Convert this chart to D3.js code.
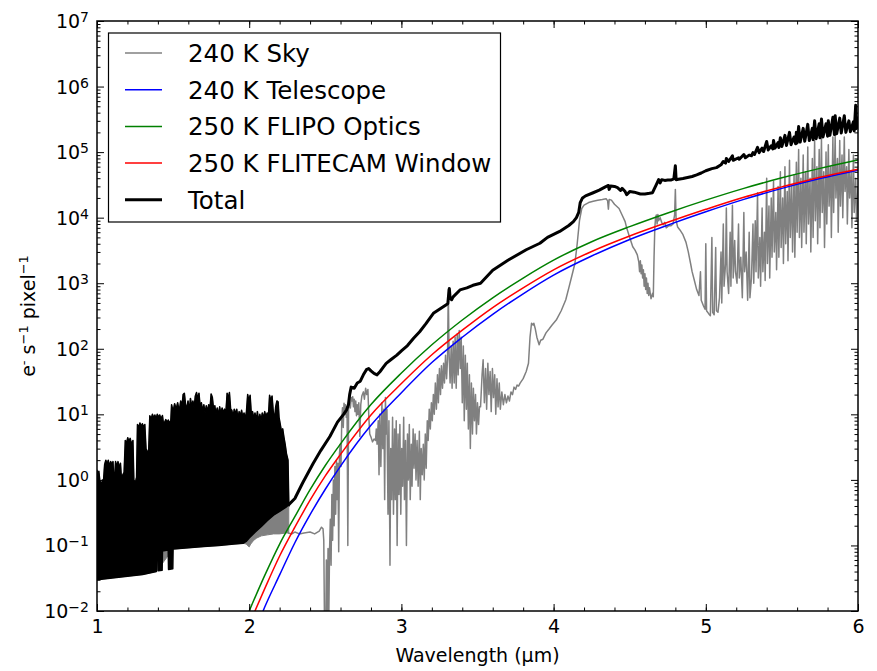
<!DOCTYPE html>
<html>
<head>
<meta charset="utf-8">
<script src="https://cdnjs.cloudflare.com/ajax/libs/d3/7.8.5/d3.min.js"></script>
<style>
body { margin: 0; background: #fff; }
text { font-family: "DejaVu Sans", sans-serif; fill: #000; }
</style>
</head>
<body>
<div class="chart"></div>
<script>
// series names / legend
var seriesNames = ["240 K Sky", "240 K Telescope", "250 K FLIPO Optics", "250 K FLITECAM Window", "Total"];
var seriesColors = ["#808080", "#0000ff", "#008000", "#ff0000", "#000000"];

// tick labels
var xTicks = [1, 2, 3, 4, 5, 6];
var yExponents = [-2, -1, 0, 1, 2, 3, 4, 5, 6, 7];

// thermal emission curves (wavelength in um, e- s-1 pixel-1)
var thermalWl = [2.0, 2.1, 2.2, 2.3, 2.4, 2.5, 2.6, 2.8, 3.0, 3.2, 3.4, 3.6, 3.8, 4.0, 4.25, 4.5, 4.75, 5.0, 5.25, 5.5, 5.75, 6.0];
var telescope = [0.0028, 0.0112, 0.0355, 0.11, 0.295, 0.72, 1.62, 6.8, 21.4, 61.7, 150, 335, 690, 1330, 2600, 4650, 7700, 12300, 19000, 28000, 39500, 53000];
var flipoOptics = [0.01, 0.034, 0.105, 0.275, 0.71, 1.66, 3.55, 14.1, 42.7, 115, 275, 600, 1200, 2250, 4300, 7300, 11800, 18500, 28000, 40500, 56500, 75900];
var flitecamWindow = [0.0063, 0.0214, 0.069, 0.19, 0.49, 1.15, 2.45, 9.8, 29.5, 81, 192, 425, 850, 1600, 3050, 5250, 8500, 13400, 20500, 29500, 41500, 55000];

// OH line forest 1.0-2.26 um: upper envelope, shared by sky and total
var forestTop = [
  [1.0, 1.4], [1.006, 1.2], [1.012, 1.35], [1.018, 1.0], [1.024, 0.9], [1.03, 0.85], [1.036, 1.0], [1.042, 0.9],
  [1.05, 1.7], [1.058, 2.0], [1.066, 1.7], [1.074, 2.0], [1.082, 1.6], [1.09, 1.9], [1.098, 1.7], [1.105, 1.9],
  [1.11, 1.0], [1.116, 1.1], [1.122, 1.9], [1.13, 1.6], [1.138, 1.9], [1.146, 1.5], [1.154, 1.8], [1.16, 1.1],
  [1.17, 1.2], [1.178, 1.3], [1.186, 4.0], [1.194, 3.6], [1.202, 4.4], [1.21, 3.8], [1.218, 4.3], [1.226, 3.5],
  [1.236, 4.0], [1.242, 1.0], [1.252, 0.9], [1.26, 1.1], [1.266, 7.0], [1.274, 6.2], [1.282, 7.4], [1.29, 6.5],
  [1.298, 7.2], [1.306, 6.4], [1.314, 7.0], [1.322, 3.0], [1.332, 2.5], [1.34, 3.0], [1.347, 9.5], [1.356, 8.5],
  [1.364, 10], [1.372, 8.8], [1.38, 9.8], [1.388, 8.6], [1.396, 10], [1.404, 9], [1.412, 9.8], [1.42, 8.5],
  [1.43, 9.6], [1.436, 7.4], [1.445, 7.6], [1.452, 8.3], [1.46, 7.5], [1.468, 8.2], [1.476, 7.4], [1.485, 8.0],
  [1.49, 14], [1.50, 11], [1.51, 14.5], [1.52, 12], [1.53, 15], [1.54, 11], [1.55, 16], [1.558, 13],
  [1.566, 20], [1.574, 21], [1.582, 14], [1.59, 12], [1.598, 16], [1.606, 11], [1.614, 17.5], [1.622, 13],
  [1.63, 16], [1.638, 12.5], [1.646, 19], [1.654, 21.5], [1.662, 17], [1.67, 21], [1.678, 13], [1.686, 15],
  [1.694, 11], [1.702, 14], [1.71, 10.5], [1.718, 13.5], [1.726, 11], [1.734, 14], [1.742, 12], [1.75, 20.5],
  [1.758, 18], [1.766, 12], [1.774, 13.5], [1.782, 10], [1.79, 12.5], [1.798, 9.5], [1.806, 13], [1.814, 10],
  [1.822, 12.5], [1.83, 10.5], [1.838, 12], [1.846, 10], [1.855, 21], [1.862, 17], [1.87, 21.5], [1.878, 12],
  [1.886, 11.5], [1.894, 9], [1.902, 12], [1.91, 10], [1.918, 12], [1.926, 8.5], [1.934, 11], [1.942, 9.5],
  [1.95, 11.5], [1.958, 9], [1.966, 10.5], [1.974, 8.5], [1.982, 11], [1.99, 20], [1.998, 16], [2.006, 19.5],
  [2.014, 10], [2.022, 11], [2.03, 8.5], [2.038, 10.5], [2.046, 8], [2.054, 11], [2.062, 7.5], [2.07, 10],
  [2.078, 8], [2.086, 10.5], [2.094, 8.5], [2.102, 11], [2.11, 9], [2.118, 10.5], [2.126, 9], [2.134, 19.5],
  [2.142, 16], [2.15, 19], [2.158, 11], [2.166, 8], [2.174, 13], [2.182, 16], [2.19, 15.5], [2.196, 9],
  [2.204, 7], [2.212, 5.5], [2.22, 6], [2.228, 4.5], [2.236, 3.5], [2.245, 2.5], [2.255, 2.0], [2.26, 0.45]
];
var totalForestBottom = [
  [1.0, 0.030], [1.1, 0.032], [1.2, 0.034], [1.3, 0.036], [1.39, 0.040], [1.392, 0.08], [1.40, 0.08],
  [1.402, 0.041], [1.428, 0.042], [1.43, 0.082], [1.468, 0.085], [1.47, 0.043], [1.498, 0.044],
  [1.50, 0.088], [1.60, 0.092], [1.70, 0.096], [1.80, 0.10], [1.90, 0.105], [1.96, 0.108], [1.98, 0.115],
  [2.0, 0.13], [2.04, 0.16], [2.08, 0.195], [2.12, 0.24], [2.16, 0.29], [2.20, 0.33], [2.24, 0.38], [2.26, 0.42]
];
var skyForestBottom = [
  [1.0, 0.030], [1.1, 0.032], [1.2, 0.034], [1.3, 0.036], [1.39, 0.040], [1.50, 0.088], [1.60, 0.092],
  [1.70, 0.096], [1.80, 0.10], [1.90, 0.105], [1.96, 0.108], [1.98, 0.105], [2.0, 0.095], [2.01, 0.105],
  [2.03, 0.12], [2.05, 0.13], [2.08, 0.14], [2.12, 0.145], [2.16, 0.15], [2.20, 0.15], [2.24, 0.155], [2.26, 0.155]
];

// sky emission 2.26-6 um
var sky = [
  [2.255, 0.155], [2.28, 0.15], [2.30, 0.16], [2.33, 0.15], [2.36, 0.155], [2.40, 0.16], [2.43, 0.15],
  [2.46, 0.165], [2.475, 0.19], [2.485, 0.18], [2.49, 0.12], [2.495, 0.005], [2.503, 0.005], [2.507, 0.06],
  [2.512, 0.005], [2.518, 0.09], [2.523, 0.008], [2.528, 0.085], [2.533, 0.25], [2.538, 0.05], [2.543, 0.6],
  [2.548, 0.12], [2.553, 1.0], [2.558, 0.2], [2.563, 1.6], [2.568, 0.3], [2.573, 2.0], [2.578, 0.5],
  [2.583, 1.8], [2.588, 0.08], [2.593, 2.5], [2.598, 3.5], [2.603, 1.6], [2.608, 8], [2.613, 12.6],
  [2.618, 6.3], [2.623, 14.8], [2.628, 10], [2.633, 14], [2.638, 9], [2.643, 13], [2.648, 0.1], [2.653, 12],
  [2.66, 15], [2.665, 12.5], [2.67, 18], [2.675, 16], [2.68, 18.6], [2.685, 13], [2.69, 17], [2.695, 11],
  [2.70, 16], [2.705, 9.5], [2.71, 14], [2.715, 10], [2.72, 15], [2.727, 4.6], [2.733, 14], [2.74, 19],
  [2.75, 22], [2.757, 17], [2.765, 25], [2.772, 20], [2.78, 24], [2.786, 9], [2.792, 5], [2.80, 4.5],
  [2.81, 3.8], [2.82, 4.2], [2.83, 4.0], [2.835, 6], [2.84, 3.5], [2.848, 8], [2.853, 1.2], [2.858, 10],
  [2.865, 1.6], [2.872, 15], [2.878, 3], [2.885, 12], [2.89, 0.5], [2.895, 18], [2.90, 5], [2.905, 12],
  [2.912, 0.3], [2.918, 8], [2.925, 0.05], [2.93, 3], [2.936, 0.5], [2.942, 9], [2.948, 0.3], [2.955, 6],
  [2.96, 0.5], [2.966, 8], [2.972, 0.1], [2.978, 5], [2.984, 0.6], [2.99, 7], [2.996, 0.3], [3.002, 3],
  [3.008, 0.8], [3.015, 9], [3.02, 0.5], [3.027, 4], [3.033, 0.1], [3.04, 5], [3.046, 1], [3.052, 7],
  [3.058, 0.5], [3.065, 3.5], [3.07, 0.8], [3.077, 6], [3.083, 1.5], [3.09, 5], [3.096, 1], [3.103, 4],
  [3.11, 0.8], [3.118, 5.5], [3.124, 0.5], [3.13, 3], [3.137, 1.2], [3.144, 3.5], [3.15, 1], [3.157, 5],
  [3.163, 1.5], [3.17, 8], [3.176, 4], [3.183, 12], [3.19, 6], [3.197, 15], [3.203, 8], [3.21, 20],
  [3.216, 10], [3.223, 30], [3.23, 12], [3.237, 40], [3.243, 15], [3.25, 50], [3.257, 20], [3.263, 55],
  [3.27, 25], [3.277, 60], [3.283, 30], [3.29, 80], [3.297, 35], [3.303, 70], [3.308, 800], [3.313, 90],
  [3.32, 30], [3.327, 110], [3.333, 25], [3.34, 130], [3.347, 30], [3.353, 150], [3.36, 25], [3.367, 170],
  [3.373, 40], [3.38, 190], [3.387, 50], [3.393, 150], [3.40, 15], [3.407, 110], [3.413, 8], [3.42, 80],
  [3.427, 12], [3.433, 60], [3.44, 6], [3.447, 40], [3.453, 3], [3.46, 30], [3.467, 5], [3.473, 25],
  [3.48, 8], [3.487, 20], [3.493, 5], [3.50, 15], [3.507, 7], [3.513, 13],
  [3.52, 13], [3.53, 40], [3.537, 68], [3.545, 15], [3.553, 50], [3.56, 12], [3.568, 60], [3.575, 20],
  [3.583, 45], [3.59, 11], [3.598, 50], [3.605, 18], [3.613, 40], [3.62, 10], [3.628, 35], [3.635, 13],
  [3.643, 30], [3.65, 12], [3.66, 22], [3.67, 14], [3.68, 20], [3.69, 15], [3.70, 19], [3.71, 16],
  [3.72, 22], [3.73, 20], [3.74, 26], [3.75, 24], [3.76, 28], [3.77, 27], [3.78, 30], [3.80, 35],
  [3.82, 45], [3.835, 60], [3.845, 150], [3.855, 245], [3.865, 230], [3.87, 245], [3.88, 200], [3.89, 150],
  [3.905, 115], [3.915, 135], [3.93, 140], [3.95, 175], [3.97, 200], [3.99, 230], [4.02, 280], [4.05, 380],
  [4.08, 560], [4.10, 850], [4.12, 1300], [4.14, 2000], [4.155, 4000], [4.17, 9000], [4.185, 13800],
  [4.20, 15500], [4.23, 17000], [4.26, 17800], [4.29, 18500], [4.32, 19000], [4.345, 19500], [4.355, 18000],
  [4.36, 13500], [4.365, 19000], [4.38, 18500], [4.40, 16000], [4.43, 13800], [4.45, 11000], [4.47, 8700],
  [4.48, 7000], [4.50, 5000], [4.52, 3600], [4.535, 3200], [4.55, 2700], [4.56, 2100], [4.565, 1500],
  [4.57, 2200], [4.575, 1400], [4.58, 1900], [4.585, 1200], [4.59, 1600], [4.595, 900], [4.60, 1400],
  [4.605, 800], [4.61, 1200], [4.615, 700], [4.62, 1000], [4.625, 650], [4.63, 850], [4.64, 580],
  [4.65, 700], [4.655, 620], [4.66, 2500], [4.665, 7000], [4.67, 10000], [4.675, 11000], [4.68, 8000],
  [4.685, 11200], [4.69, 9000], [4.70, 10000], [4.71, 8500], [4.72, 7800], [4.73, 8500], [4.74, 7000],
  [4.755, 7500], [4.77, 7500], [4.785, 8000], [4.795, 11000], [4.80, 27000], [4.805, 9000], [4.815, 7200],
  [4.83, 6500], [4.85, 5500], [4.87, 4200], [4.885, 3000], [4.90, 2000], [4.91, 1500], [4.925, 1100],
  [4.94, 800], [4.955, 650], [4.965, 1500], [4.97, 550], [4.985, 450], [4.995, 400], [5.00, 4000],
  [5.005, 380], [5.02, 340], [5.03, 320], [5.04, 5000], [5.045, 360], [5.055, 330], [5.065, 3500],
  [5.07, 380], [5.08, 360], [5.09, 600], [5.10, 3000], [5.105, 500], [5.115, 8000], [5.12, 900],
  [5.13, 2000], [5.135, 14000], [5.14, 1500], [5.15, 700], [5.16, 6000], [5.165, 900], [5.175, 15500],
  [5.18, 1200], [5.19, 4500], [5.195, 1500], [5.205, 1000], [5.215, 8000], [5.22, 1200], [5.23, 2500],
  [5.24, 600], [5.25, 12000], [5.255, 1500], [5.265, 3000], [5.275, 550], [5.285, 6000], [5.29, 600],
  [5.30, 1200], [5.31, 8000], [5.315, 1000], [5.325, 9000], [5.33, 1500], [5.34, 24000], [5.345, 1200],
  [5.355, 5000], [5.36, 900], [5.37, 14000], [5.375, 1500], [5.385, 6000], [5.39, 1100], [5.40, 40000],
  [5.405, 2000], [5.415, 15000], [5.42, 1200], [5.43, 20000], [5.435, 2500], [5.445, 36000], [5.45, 3000],
  [5.46, 12000], [5.465, 1600], [5.475, 30000], [5.48, 2500], [5.49, 50000], [5.495, 3500], [5.505, 20000],
  [5.51, 2000], [5.52, 60000], [5.525, 4000], [5.535, 25000], [5.54, 2200], [5.55, 75000], [5.555, 5000],
  [5.565, 30000], [5.57, 3000], [5.58, 45000], [5.585, 2500], [5.595, 70000], [5.60, 6000], [5.61, 110000],
  [5.615, 5000], [5.625, 40000], [5.63, 3500], [5.64, 90000], [5.645, 6000], [5.655, 50000], [5.66, 4000],
  [5.67, 120000], [5.675, 8000], [5.685, 40000], [5.69, 3000], [5.70, 80000], [5.705, 5000], [5.715, 150000],
  [5.72, 9000], [5.73, 60000], [5.735, 4000], [5.745, 110000], [5.75, 7000], [5.76, 160000], [5.765, 12000],
  [5.775, 50000], [5.78, 3500], [5.79, 100000], [5.795, 8000], [5.805, 130000], [5.81, 15000], [5.82, 60000],
  [5.825, 5000], [5.835, 170000], [5.84, 12000], [5.85, 180000], [5.855, 20000], [5.865, 80000], [5.87, 6000],
  [5.88, 150000], [5.885, 15000], [5.895, 90000], [5.90, 10000], [5.91, 170000], [5.915, 25000], [5.925, 60000],
  [5.93, 8000], [5.94, 110000], [5.945, 20000], [5.955, 50000], [5.96, 7000], [5.97, 90000], [5.975, 12000],
  [5.985, 40000], [5.99, 9000], [6.0, 30000]
];

// total 2.26-6 um
var total = [
  [2.255, 0.40], [2.26, 0.42], [2.30, 0.52], [2.35, 0.89], [2.42, 1.78], [2.47, 2.8], [2.53, 4.6], [2.58, 7.6],
  [2.62, 10], [2.64, 11.7], [2.652, 14], [2.66, 20], [2.67, 26], [2.69, 25], [2.71, 30], [2.73, 32],
  [2.75, 40], [2.77, 48], [2.785, 50], [2.80, 46], [2.82, 42], [2.84, 40], [2.86, 45], [2.88, 52],
  [2.90, 60], [2.93, 68], [2.97, 80], [3.0, 93], [3.04, 112], [3.08, 145], [3.12, 182], [3.16, 240],
  [3.21, 347], [3.25, 400], [3.29, 460], [3.305, 490], [3.31, 650], [3.315, 830], [3.32, 600], [3.33, 560],
  [3.34, 620], [3.385, 790], [3.43, 850], [3.47, 930], [3.52, 1000], [3.60, 1580], [3.70, 2240],
  [3.82, 3240], [3.91, 4070], [3.96, 5000], [4.04, 6170], [4.10, 7600], [4.13, 8700], [4.15, 10000],
  [4.165, 12000], [4.175, 17000], [4.19, 20000], [4.21, 21500], [4.26, 24000], [4.30, 26300], [4.34, 29500],
  [4.36, 31000], [4.365, 27000], [4.375, 30500], [4.40, 30000], [4.42, 28800], [4.44, 26000], [4.45, 28000],
  [4.47, 25000], [4.48, 22400], [4.50, 25000], [4.53, 24500], [4.57, 23000], [4.60, 23000], [4.63, 23500],
  [4.65, 24000], [4.66, 27000], [4.675, 32000], [4.69, 38000], [4.70, 34000], [4.71, 38000], [4.73, 37000],
  [4.75, 37500], [4.77, 37500], [4.79, 39000], [4.80, 62000], [4.805, 38000], [4.82, 38500], [4.85, 39500],
  [4.88, 41000], [4.91, 42500], [4.94, 45000], [4.97, 48000], [5.0, 52000], [5.04, 56000], [5.07, 58000],
  [5.10, 64000], [5.115, 72000], [5.13, 68000], [5.135, 80000], [5.15, 72000], [5.175, 88000], [5.18, 75000],
  [5.215, 82000], [5.22, 78000], [5.25, 92000], [5.26, 82000], [5.285, 90000], [5.30, 88000], [5.31, 98000],
  [5.32, 92000], [5.34, 118000], [5.35, 98000], [5.37, 115000], [5.38, 102000], [5.40, 145000], [5.41, 108000],
  [5.43, 125000], [5.44, 112000], [5.445, 150000], [5.455, 115000], [5.475, 140000], [5.48, 118000],
  [5.49, 165000], [5.50, 122000], [5.52, 180000], [5.53, 126000], [5.55, 200000], [5.56, 130000],
  [5.58, 170000], [5.59, 134000], [5.595, 200000], [5.60, 138000], [5.61, 245000], [5.62, 142000],
  [5.64, 230000], [5.65, 146000], [5.67, 265000], [5.68, 150000], [5.70, 230000], [5.705, 155000],
  [5.715, 300000], [5.725, 160000], [5.745, 270000], [5.75, 165000], [5.76, 320000], [5.77, 170000],
  [5.79, 270000], [5.80, 175000], [5.805, 300000], [5.815, 180000], [5.835, 340000], [5.845, 185000],
  [5.85, 360000], [5.86, 190000], [5.88, 330000], [5.89, 195000], [5.91, 360000], [5.92, 200000],
  [5.94, 300000], [5.95, 205000], [5.97, 290000], [5.975, 210000], [5.985, 520000], [5.99, 230000], [6.0, 350000]
];

var width = 877, height = 671;
var pLeft = 97, pRight = 858, pTop = 21, pBottom = 611;

var svg = d3.select(".chart").append("svg")
  .attr("width", width)
  .attr("height", height);

var x = d3.scaleLinear().domain([1, 6]).range([pLeft, pRight]);
var y = d3.scaleLog().domain([1e-2, 1e7]).range([pBottom, pTop]);

svg.append("clipPath").attr("id", "plotClip")
  .append("rect")
  .attr("x", pLeft).attr("y", pTop)
  .attr("width", pRight - pLeft).attr("height", pBottom - pTop);

var plot = svg.append("g").attr("clip-path", "url(#plotClip)");

var line = d3.line()
  .x(function(d) { return x(d[0]); })
  .y(function(d) { return y(d[1]); });

var smooth = d3.line()
  .x(function(d) { return x(d[0]); })
  .y(function(d) { return y(d[1]); })
  .curve(d3.curveMonotoneX);

// sky forest (gray) and sky line
plot.append("path")
  .attr("d", line(forestTop.concat(skyForestBottom.slice().reverse())) + "Z")
  .attr("fill", seriesColors[0])
  .attr("stroke", seriesColors[0])
  .attr("stroke-width", 1);

plot.append("path")
  .attr("d", line(sky))
  .attr("fill", "none")
  .attr("stroke", seriesColors[0])
  .attr("stroke-width", 1.5)
  .attr("stroke-linejoin", "round");

// thermal curves
var thermal = [telescope, flipoOptics, flitecamWindow];
thermal.forEach(function(vals, i) {
  plot.append("path")
    .attr("d", smooth(thermalWl.map(function(w, j) { return [w, vals[j]]; })))
    .attr("fill", "none")
    .attr("stroke", seriesColors[i + 1])
    .attr("stroke-width", 1.5);
});

// total
plot.append("path")
  .attr("d", line(forestTop.concat(totalForestBottom.slice().reverse())) + "Z")
  .attr("fill", "#000")
  .attr("stroke", "#000")
  .attr("stroke-width", 1.5)
  .attr("stroke-linejoin", "round");

plot.append("path")
  .attr("d", line(total))
  .attr("fill", "none")
  .attr("stroke", "#000")
  .attr("stroke-width", 3)
  .attr("stroke-linejoin", "round");

// axes: ticks inside on all four sides
var xMinor = d3.range(1, 6.001, 0.2);
var yMinor = [];
yExponents.forEach(function(e) {
  if (e < 7) for (var k = 2; k < 10; k++) yMinor.push(k * Math.pow(10, e));
});

function tickAxis(axis, tr) {
  var g = svg.append("g").attr("transform", tr).call(axis);
  g.select(".domain").remove();
  g.selectAll("line").attr("stroke", "#000").attr("stroke-width", 1);
  return g;
}

var xb = tickAxis(d3.axisBottom(x).tickValues(xTicks).tickSize(-7).tickPadding(9).tickFormat(d3.format("d")),
  "translate(0," + pBottom + ")");
xb.selectAll("text").style("font-size", "19px").style("font-family", "DejaVu Sans");
tickAxis(d3.axisBottom(x).tickValues(xMinor).tickSize(-3.5).tickFormat(""), "translate(0," + pBottom + ")");
tickAxis(d3.axisTop(x).tickValues(xTicks).tickSize(-7).tickFormat(""), "translate(0," + pTop + ")");
tickAxis(d3.axisTop(x).tickValues(xMinor).tickSize(-3.5).tickFormat(""), "translate(0," + pTop + ")");

var yMajor = yExponents.map(function(e) { return Math.pow(10, e); });
tickAxis(d3.axisLeft(y).tickValues(yMajor).tickSize(-7).tickFormat(""), "translate(" + pLeft + ",0)");
tickAxis(d3.axisLeft(y).tickValues(yMinor).tickSize(-3.5).tickFormat(""), "translate(" + pLeft + ",0)");
tickAxis(d3.axisRight(y).tickValues(yMajor).tickSize(-7).tickFormat(""), "translate(" + pRight + ",0)");
tickAxis(d3.axisRight(y).tickValues(yMinor).tickSize(-3.5).tickFormat(""), "translate(" + pRight + ",0)");

// y tick labels 10^n
yExponents.forEach(function(e) {
  var t = svg.append("text")
    .attr("x", pLeft - 8)
    .attr("y", y(Math.pow(10, e)) + 7)
    .attr("text-anchor", "end")
    .style("font-size", "19px");
  t.append("tspan").text("10");
  t.append("tspan").attr("dy", -6).style("font-size", "14px").text(e < 0 ? "\u2212" + (-e) : e);
});

// frame
svg.append("rect")
  .attr("x", pLeft).attr("y", pTop)
  .attr("width", pRight - pLeft).attr("height", pBottom - pTop)
  .attr("fill", "none").attr("stroke", "#000").attr("stroke-width", 1.5);

// axis labels
svg.append("text")
  .attr("x", (pLeft + pRight) / 2)
  .attr("y", 662)
  .attr("text-anchor", "middle")
  .style("font-size", "19px")
  .text("Wavelength (\u03bcm)");

var yl = svg.append("text")
  .attr("transform", "translate(35," + ((pTop + pBottom) / 2) + ") rotate(-90)")
  .attr("text-anchor", "middle")
  .style("font-size", "19px");
yl.append("tspan").text("e");
yl.append("tspan").attr("dy", -7).style("font-size", "13px").text("-");
yl.append("tspan").attr("dy", 7).text(" s");
yl.append("tspan").attr("dy", -7).style("font-size", "13px").text("\u22121");
yl.append("tspan").attr("dy", 7).text(" pixel");
yl.append("tspan").attr("dy", -7).style("font-size", "13px").text("\u22121");

// legend
var legend = svg.append("g");
legend.append("rect")
  .attr("x", 108.5).attr("y", 33)
  .attr("width", 392).attr("height", 189)
  .attr("fill", "#fff").attr("stroke", "#000").attr("stroke-width", 1.2);

seriesNames.forEach(function(name, i) {
  var ly = 53 + i * 36.7;
  legend.append("line")
    .attr("x1", 125).attr("x2", 162)
    .attr("y1", ly).attr("y2", ly)
    .attr("stroke", seriesColors[i])
    .attr("stroke-width", i === 4 ? 3 : 1.5);
  legend.append("text")
    .attr("x", 188).attr("y", ly + 9)
    .style("font-size", "24.5px")
    .text(name);
});
</script>
</body>
</html>
